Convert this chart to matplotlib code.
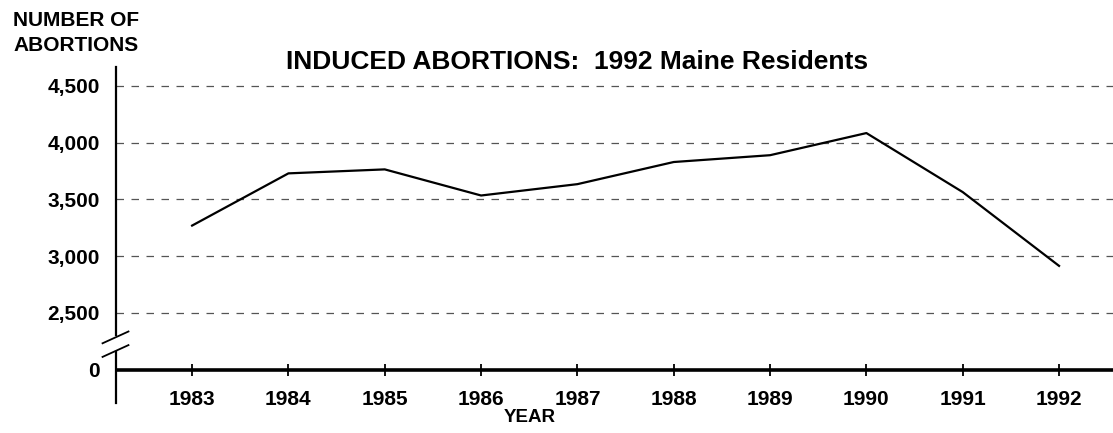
import numpy as np
import matplotlib.pyplot as plt
from matplotlib import transforms

plt.rcParams['font.family'] = ['Liberation Sans', 'DejaVu Sans']
plt.rcParams['font.weight'] = 'bold'

years = [1983, 1984, 1985, 1986, 1987, 1988, 1989, 1990, 1991, 1992]
abortions = [3270, 3730, 3765, 3535, 3635, 3830, 3890, 4085, 3565, 2915]

ytick_vals = [2000, 2500, 3000, 3500, 4000, 4500]  # 2000 stands in for 0 (broken axis)
ytick_labels = ['0', '2,500', '3,000', '3,500', '4,000', '4,500']

fig = plt.figure(figsize=(11.13, 4.33), dpi=100)
ax = fig.add_axes([116/1113, 30/433, 997/1113, 336/433])

ax.plot(years, abortions, color='black', lw=1.6)

# grid lines (dashed), not at zero
for v in ytick_vals[1:]:
    ax.axhline(v, color='#555555', lw=0.9, ls=(0, (6, 6)), zorder=0)

# x axis line at "0"
ax.axhline(2000, color='black', lw=2.6, zorder=3)

ax.set_xlim(1982.21, 1992.56)
ax.set_ylim(1707, 4667)

for s in ax.spines.values():
    s.set_visible(False)

# y axis line drawn in two pieces with a break
ax.plot([1982.21, 1982.21], [1707, 2156], color='black', lw=1.6, clip_on=False)
ax.plot([1982.21, 1982.21], [2306, 4667], color='black', lw=1.6, clip_on=False)
trans = transforms.blended_transform_factory(ax.transAxes, ax.transData)
for yc in [2285, 2165]:
    ax.plot([-0.0135, 0.0125], [yc - 52, yc + 52], color='black', lw=1.3,
            transform=trans, clip_on=False)

ax.set_xticks(years)
ax.set_xticklabels([str(y) for y in years])
ax.tick_params(axis='x', direction='inout', length=8, width=1.3,
               labelsize=15, bottom=True)
ax.set_yticks(ytick_vals)
ax.set_yticklabels(ytick_labels)
ax.tick_params(axis='y', length=0, pad=11.5, labelsize=15)
# move the x ticks onto the "0" line
ax.xaxis.set_ticks_position('bottom')
for t in ax.xaxis.get_major_ticks():
    t.tick1line.set_transform(transforms.blended_transform_factory(ax.transData, ax.transData))
    t.tick1line.set_ydata([2000])
    t.label1.set_transform(transforms.blended_transform_factory(ax.transData, ax.transData) +
                           transforms.ScaledTranslation(0, -14.5/72, fig.dpi_scale_trans))
    t.label1.set_y(2000)

fig.text(530/1113, 1 - 418/433, 'YEAR', ha='center', va='center', fontsize=13.5, fontweight='bold')
fig.text(577/1113, 1 - 62/433, 'INDUCED ABORTIONS:  1992 Maine Residents', ha='center', va='center',
         fontsize=19, fontweight='bold')
fig.text(13/1113, 1 - 33/433, 'NUMBER OF\nABORTIONS', ha='left', va='center', fontsize=15,
         fontweight='bold', linespacing=1.4)

fig.savefig('out.png', dpi=100)
